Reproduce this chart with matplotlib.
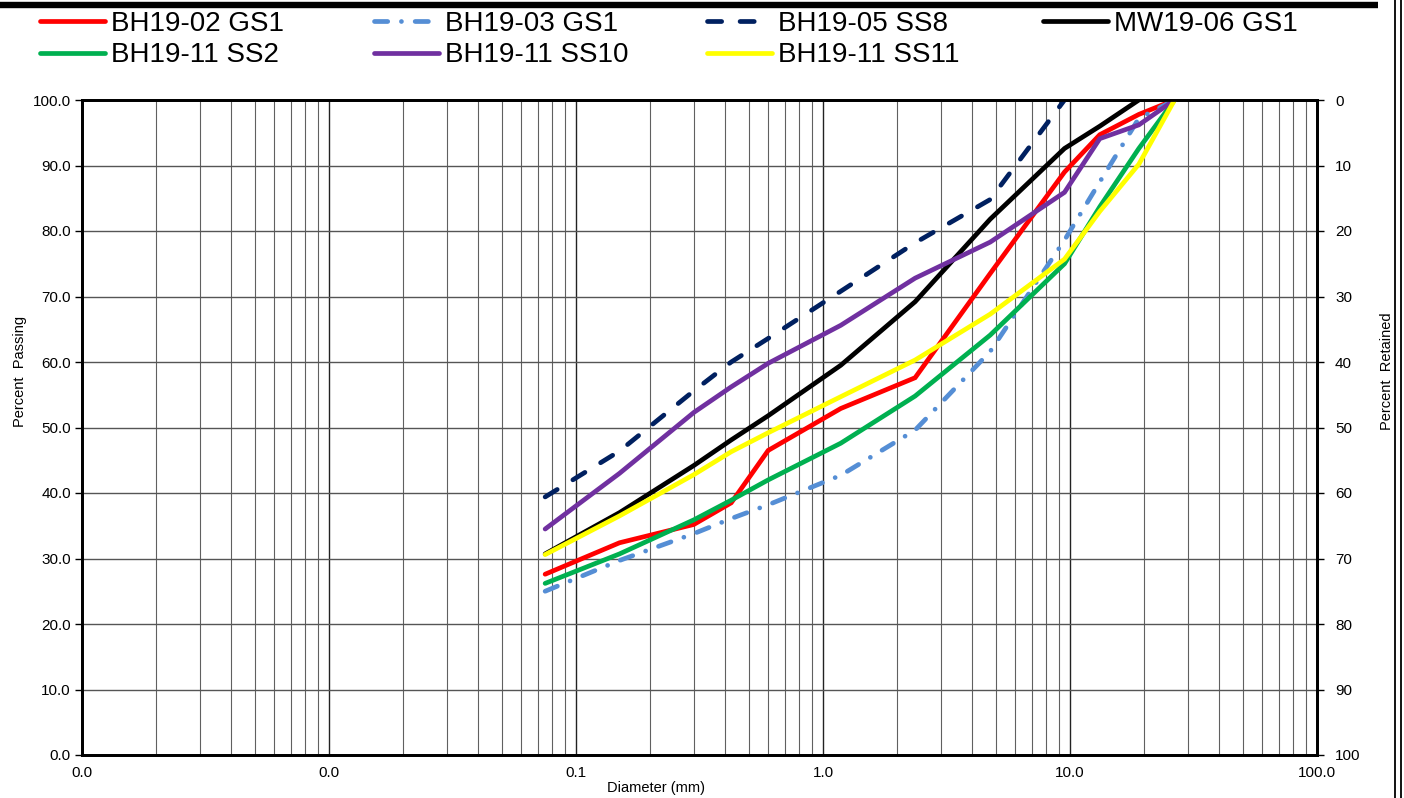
import matplotlib
matplotlib.use('Agg')
import matplotlib.pyplot as plt
from matplotlib.lines import Line2D
from matplotlib.ticker import LogLocator, NullFormatter

plt.rcParams['font.family'] = ['Liberation Sans', 'DejaVu Sans']

# ---------------- data ----------------
sieve_mm = [0.075, 0.15, 0.3, 0.425, 0.6, 1.18, 2.36, 4.75, 9.5, 13.2, 19.0, 26.5]

bh19_02_gs1 = [27.6, 32.4, 35.2, 38.5, 46.5, 52.9, 57.6, 73.5, 89.0, 94.7, 97.8, 100.0]
bh19_03_gs1 = [25.0, 29.7, 33.8, 36.1, 38.2, 42.7, 49.6, 61.6, 78.6, 87.5, 97.2, 100.0]
bh19_05_ss8 = [39.4, 46.4, 55.6, 60.0, 63.6, 70.8, 78.2, 84.8, 100.0]          # to 9.5 mm
mw19_06_gs1 = [30.7, 37.0, 44.2, 48.1, 51.8, 59.5, 69.2, 81.8, 92.6, 96.0, 100.0]  # to 19 mm
bh19_11_ss2 = [26.2, 30.7, 35.9, 38.9, 42.0, 47.6, 54.8, 64.1, 75.0, 83.7, 92.6, 100.0]
bh19_11_ss10 = [34.5, 43.0, 52.3, 56.2, 59.8, 65.6, 72.8, 78.3, 85.9, 94.1, 96.2, 100.0]
bh19_11_ss11 = [30.6, 36.5, 42.8, 46.3, 49.2, 54.7, 60.3, 67.3, 75.7, 83.0, 90.2, 100.0]

x_ticks = [0.001, 0.01, 0.1, 1, 10, 100]
x_tick_labels = ["0.0", "0.0", "0.1", "1.0", "10.0", "100.0"]
y_ticks = [0, 10, 20, 30, 40, 50, 60, 70, 80, 90, 100]
y_tick_labels = ["%.1f" % v for v in y_ticks]
y2_tick_labels = ["%d" % v for v in y_ticks]

# ---------------- figure ----------------
W, H = 1404, 798
fig = plt.figure(figsize=(W / 100, H / 100), dpi=100)
L, R, T, B = 82, 1317, 100, 755
ax = fig.add_axes([L / W, 1 - B / H, (R - L) / W, (B - T) / H])

lw = 3.4
series = [
    ("BH19-02 GS1", sieve_mm, bh19_02_gs1, dict(color="#FF0000", linestyle="-")),
    ("BH19-03 GS1", sieve_mm, bh19_03_gs1, dict(color="#558ED5", linestyle=(0, (2.8, 2.9, 0.01, 2.9)))),
    ("BH19-05 SS8", sieve_mm[:len(bh19_05_ss8)], bh19_05_ss8, dict(color="#002060", linestyle=(0, (3.0, 3.9)))),
    ("MW19-06 GS1", sieve_mm[:len(mw19_06_gs1)], mw19_06_gs1, dict(color="#000000", linestyle="-")),
    ("BH19-11 SS2", sieve_mm, bh19_11_ss2, dict(color="#00B050", linestyle="-")),
    ("BH19-11 SS10", sieve_mm, bh19_11_ss10, dict(color="#7030A0", linestyle="-")),
    ("BH19-11 SS11", sieve_mm, bh19_11_ss11, dict(color="#FFFF00", linestyle="-")),
]
handles = {}
for i, (name, xs, ys, st) in enumerate(series):
    ln, = ax.plot(xs, ys, lw=lw, dash_capstyle='round', solid_capstyle='round',
                  solid_joinstyle='miter', label=name, zorder=3 + i, clip_on=True, **st)
    handles[name] = ln

ax.set_xscale('log')
ax.set_xlim(0.001, 100)
ax.set_ylim(0, 100)
ax.set_xticks(x_ticks, x_tick_labels)
ax.xaxis.set_minor_locator(LogLocator(base=10, subs=[2, 3, 4, 5, 6, 7, 8, 9], numticks=20))
ax.xaxis.set_minor_formatter(NullFormatter())
ax.set_yticks(y_ticks, y_tick_labels)

ax.set_axisbelow(True)
ax.grid(which='major', axis='y', color='#555555', lw=1.0)
ax.grid(which='major', axis='x', color='#222222', lw=1.0)
ax.grid(which='minor', axis='x', color='#606060', lw=0.8)

ax.tick_params(axis='x', which='both', length=0, pad=8, labelsize=11)
ax.tick_params(axis='y', which='major', length=5, width=1, direction='out', pad=3, labelsize=11)
for s in ax.spines.values():
    s.set_linewidth(2.0)

ax.set_xlabel("Diameter (mm)", fontsize=10.5)
ax.xaxis.set_label_coords((656 - L) / (R - L), -0.040)
ax.set_ylabel("Percent  Passing", fontsize=10.5)
ax.yaxis.set_label_coords((27 - L) / (R - L), (B - 371) / (B - T))

ax2 = ax.twinx()
ax2.set_ylim(100, 0)
ax2.set_yticks(y_ticks, y2_tick_labels)
ax2.tick_params(axis='y', length=5, width=1, direction='out', pad=8, labelsize=11)
for s in ax2.spines.values():
    s.set_linewidth(2.0)
ax2.set_ylabel("Percent  Retained", fontsize=10.5)
ax2.yaxis.set_label_coords((1380 - L) / (R - L), (B - 371) / (B - T))

# ---------------- legend (4 columns) ----------------
cols = [
    (40, ["BH19-02 GS1", "BH19-11 SS2"]),
    (374, ["BH19-03 GS1", "BH19-11 SS10"]),
    (707, ["BH19-05 SS8", "BH19-11 SS11"]),
    (1043, ["MW19-06 GS1"]),
]
for x0, names in cols:
    fig.legend(handles=[handles[n] for n in names], labels=names,
               loc='upper left', bbox_to_anchor=(x0 / W, 1 - 11 / H),
               frameon=False, fontsize=20, handlelength=2.35, handletextpad=0.2,
               borderpad=0, borderaxespad=0, labelspacing=0.19)

# ---------------- page border decoration ----------------
fig.add_artist(Line2D([0, 1378 / W], [1 - 5 / H, 1 - 5 / H], color='black', lw=4.6,
                      transform=fig.transFigure, solid_capstyle='butt'))
for xp in (1394.5, 1400.5):
    fig.add_artist(Line2D([xp / W, xp / W], [0, 1], color='black', lw=1.3,
                          transform=fig.transFigure))

fig.savefig("out.png", dpi=100)
